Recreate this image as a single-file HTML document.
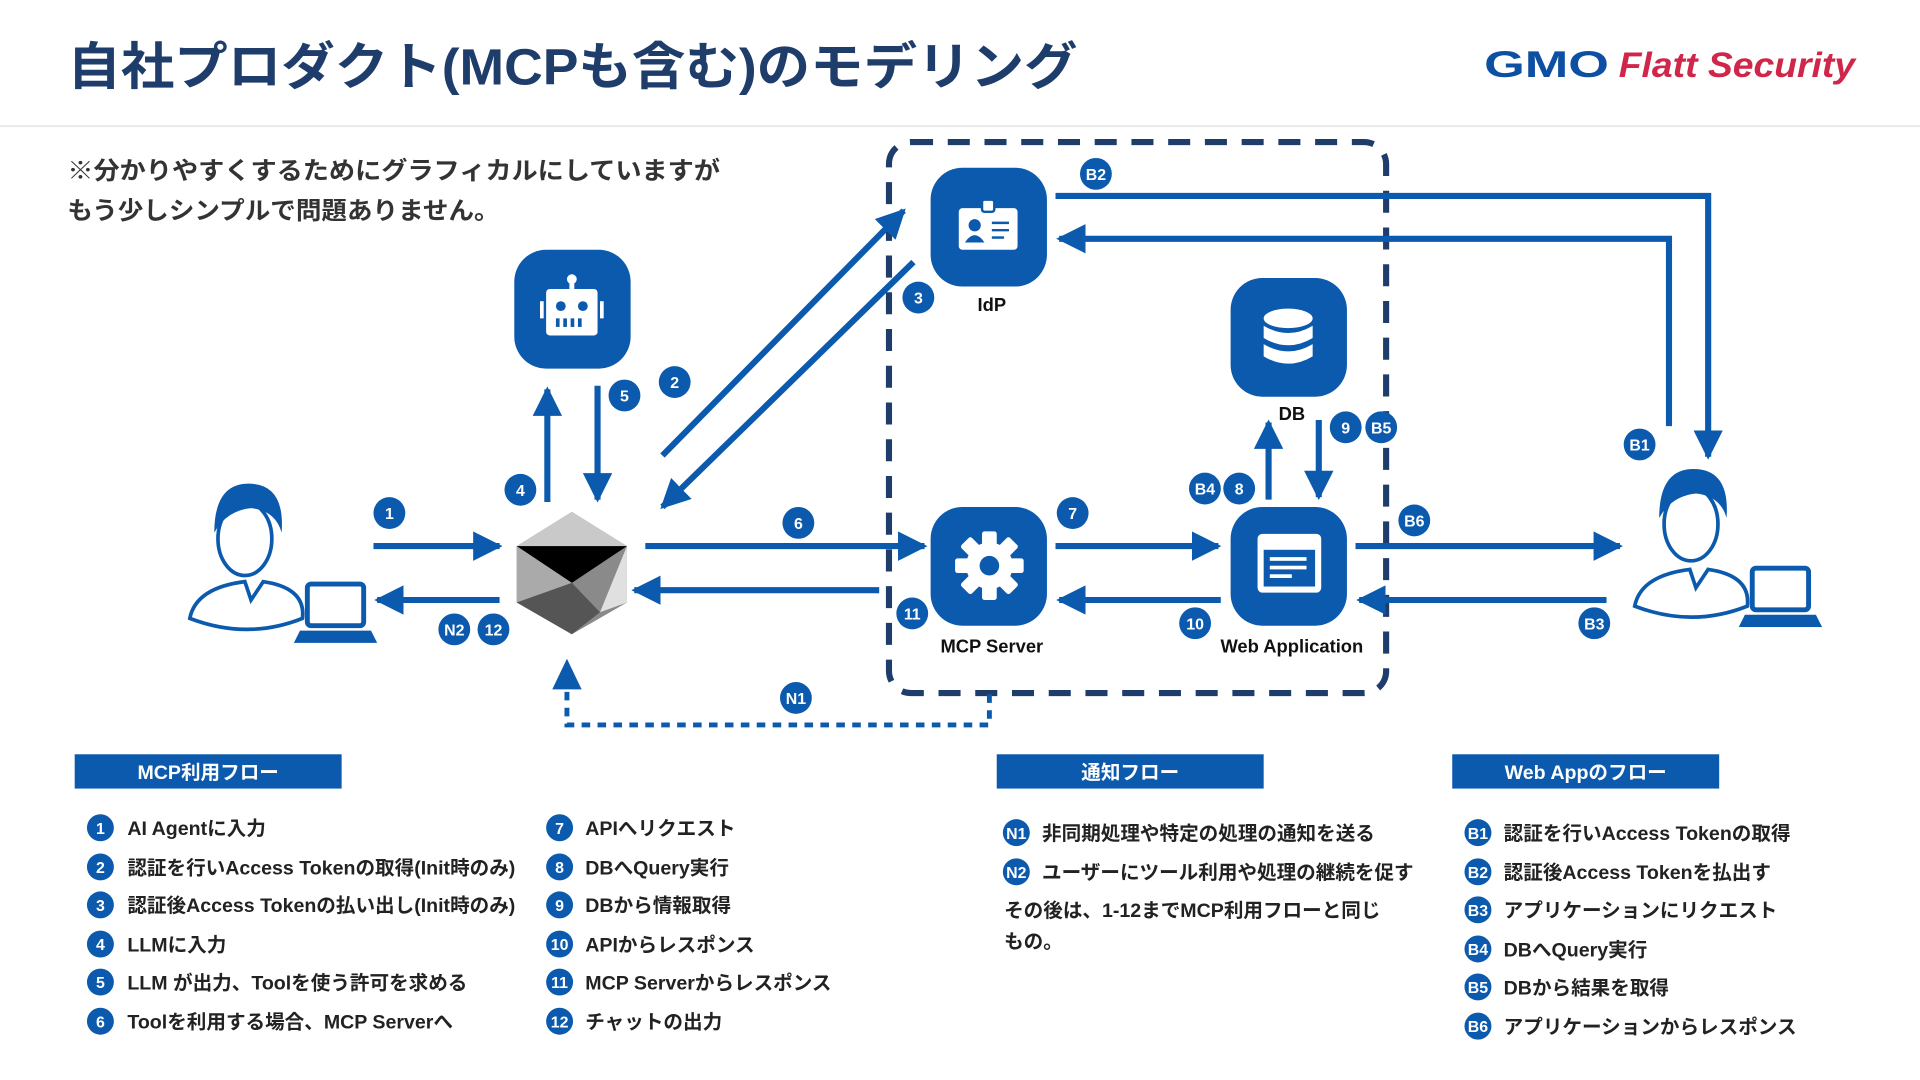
<!DOCTYPE html>
<html><head><meta charset="utf-8"><style>
html,body{margin:0;padding:0;background:#fff;width:1920px;height:1080px;overflow:hidden}
svg{display:block}
text{font-family:"Liberation Sans","Noto Sans CJK JP",sans-serif}
.b{fill:#0b5aad}
.bt{fill:#fff;font-size:13px;font-weight:bold;text-anchor:middle}
.li{font-size:16px;font-weight:bold;fill:#222}
.lb{font-size:15px;font-weight:bold;fill:#111;text-anchor:middle}
</style></head><body>
<svg width="1920" height="1080" viewBox="0 0 1568 882" preserveAspectRatio="none" xmlns="http://www.w3.org/2000/svg">
<defs>
<marker id="ah" viewBox="0 0 10 10" refX="9" refY="5" markerWidth="4.8" markerHeight="4.8" orient="auto-start-reverse" markerUnits="strokeWidth"><path d="M0,0 L10,5 L0,10 z" fill="#0b5aad"/></marker>
</defs>
<!-- header -->
<text x="55" y="69" font-size="42" font-weight="bold" fill="#1f3d6b" textLength="825" lengthAdjust="spacingAndGlyphs">自社プロダクト(MCPも含む)のモデリング</text>
<text x="1212" y="63" font-size="30" font-weight="bold" fill="#0d4fa3" textLength="102" lengthAdjust="spacingAndGlyphs">GMO</text>
<text x="1322" y="63" font-size="29" font-weight="bold" font-style="italic" fill="#d0264a" textLength="193" lengthAdjust="spacingAndGlyphs">Flatt Security</text>
<line x1="0" y1="103" x2="1568" y2="103" stroke="#e8e8e8" stroke-width="1.5"/>
<text x="55" y="146" font-size="20" font-weight="bold" fill="#333" textLength="533" lengthAdjust="spacingAndGlyphs">※分かりやすくするためにグラフィカルにしていますが</text>
<text x="55" y="179" font-size="20" font-weight="bold" fill="#333" textLength="353" lengthAdjust="spacingAndGlyphs">もう少しシンプルで問題ありません。</text>

<!-- dashed box -->
<rect x="726" y="116" width="406" height="450" rx="18" fill="none" stroke="#1f3d6b" stroke-width="5" stroke-dasharray="18 12"/>

<!-- arrows -->
<g stroke="#0b5aad" stroke-width="5" fill="none" marker-end="url(#ah)">
<line x1="305" y1="446" x2="408" y2="446"/>
<line x1="408" y1="490" x2="308" y2="490"/>
<line x1="447" y1="410" x2="447" y2="318"/>
<line x1="488" y1="315" x2="488" y2="408"/>
<line x1="541" y1="372" x2="738" y2="172"/>
<line x1="746" y1="214" x2="541" y2="414"/>
<line x1="527" y1="446" x2="755" y2="446"/>
<line x1="718" y1="482" x2="518" y2="482"/>
<line x1="862" y1="446" x2="995" y2="446"/>
<line x1="997" y1="490" x2="865" y2="490"/>
<line x1="1036" y1="408" x2="1036" y2="345"/>
<line x1="1077" y1="343" x2="1077" y2="406"/>
<line x1="1107" y1="446" x2="1323" y2="446"/>
<line x1="1312" y1="490" x2="1110" y2="490"/>
<polyline points="862,160 1395,160 1395,373"/>
<polyline points="1363,348 1363,195 865,195"/>
</g>
<polyline points="808,567 808,592 463,592 463,545" fill="none" stroke="#0b5aad" stroke-width="4" stroke-dasharray="7 6"/>
<path d="M451,563 L463,538 L475,563 z" fill="#0b5aad"/>

<!-- icon tiles -->
<rect x="420" y="204" width="95" height="97" rx="26" class="b"/>
<rect x="760" y="137" width="95" height="97" rx="26" class="b"/>
<rect x="1005" y="227" width="95" height="97" rx="26" class="b"/>
<rect x="760" y="414" width="95" height="97" rx="26" class="b"/>
<rect x="1005" y="414" width="95" height="97" rx="26" class="b"/>
<!-- robot -->
<g fill="#fff"><circle cx="467" cy="228" r="4"/><rect x="465" y="230" width="4" height="6"/><rect x="446" y="236" width="42" height="38" rx="3"/><rect x="441" y="246" width="3" height="14"/><rect x="490" y="246" width="3" height="14"/></g>
<g class="b"><circle cx="458" cy="250" r="4"/><circle cx="476" cy="250" r="4"/><rect x="454" y="260" width="3" height="7"/><rect x="460" y="260" width="3" height="7"/><rect x="466" y="260" width="3" height="7"/><rect x="472" y="260" width="3" height="7"/></g>
<!-- idp -->
<rect x="783" y="170" width="48" height="34" rx="3" fill="#fff"/><rect x="802" y="163" width="10" height="10" rx="2" fill="#fff" stroke="#0b5aad" stroke-width="2"/>
<circle cx="796" cy="184" r="5" class="b"/><path d="M788,198 q8,-12 16,0z" class="b"/>
<g stroke="#0b5aad" stroke-width="2"><line x1="810" y1="182" x2="824" y2="182"/><line x1="810" y1="188" x2="824" y2="188"/><line x1="810" y1="194" x2="820" y2="194"/></g>
<!-- db -->
<g fill="#fff"><ellipse cx="1052" cy="260" rx="20" ry="8"/><path d="M1032,266 q20,12 40,0 v10 q-20,12 -40,0z"/><path d="M1032,281 q20,12 40,0 v10 q-20,12 -40,0z"/></g>
<!-- gear -->
<g transform="translate(808,462)"><g fill="#fff"><circle r="19"/>
<rect x="-6" y="-28" width="12" height="56" rx="2"/><rect x="-6" y="-28" width="12" height="56" rx="2" transform="rotate(45)"/><rect x="-6" y="-28" width="12" height="56" rx="2" transform="rotate(90)"/><rect x="-6" y="-28" width="12" height="56" rx="2" transform="rotate(135)"/></g><circle r="8" class="b"/></g>
<!-- web app -->
<rect x="1027" y="436" width="52" height="48" rx="4" fill="#fff"/><rect x="1032" y="449" width="42" height="30" class="b"/>
<g fill="#fff"><rect x="1037" y="455" width="30" height="3"/><rect x="1037" y="462" width="30" height="3"/><rect x="1037" y="469" width="18" height="3"/><circle cx="1062" cy="442" r="1.6"/><circle cx="1067" cy="442" r="1.6"/><circle cx="1072" cy="442" r="1.6"/></g>

<text x="810" y="254" class="lb">IdP</text>
<text x="1055" y="343" class="lb">DB</text>
<text x="810" y="533" class="lb">MCP Server</text>
<text x="1055" y="533" class="lb">Web Application</text>

<!-- crystal -->
<path d="M467,418 L512,446 L512,492 L467,518 L422,492 L422,446z" fill="#8a8a8a"/>
<path d="M467,418 L512,446 L422,446z" fill="#c9c9c9"/>
<path d="M422,446 L512,446 L467,476z" fill="#000"/>
<path d="M422,446 L467,476 L422,492z" fill="#aaa"/>
<path d="M512,446 L490,500 L512,492z" fill="#e0e0e0"/>
<path d="M467,476 L490,500 L467,518 L422,492z" fill="#555"/>

<!-- users -->
<g fill="none" stroke="#0b5aad" stroke-width="3">
<path d="M155,505 q5,-25 45,-30 l5,15 l10,-15 q35,5 32,30 q-45,18 -92,0z"/>
<ellipse cx="200" cy="440" rx="22" ry="30"/>
<path d="M1335,495 q5,-25 45,-30 l5,15 l10,-15 q35,5 32,30 q-45,18 -92,0z"/>
<ellipse cx="1381" cy="428" rx="22" ry="30"/>
</g>
<path d="M175,435 q0,-40 28,-40 q30,0 27,40 q-5,-18 -25,-20 q-20,2 -30,20z" class="b"/>
<path d="M1355,423 q0,-40 28,-40 q30,0 27,40 q-5,-18 -25,-20 q-20,2 -30,20z" class="b"/>
<rect x="251" y="477" width="46" height="34" rx="3" fill="#fff" stroke="#0b5aad" stroke-width="4"/><path d="M245,515 h58 l5,10 h-68z" class="b"/>
<rect x="1431" y="464" width="46" height="34" rx="3" fill="#fff" stroke="#0b5aad" stroke-width="4"/><path d="M1425,502 h58 l5,10 h-68z" class="b"/>

<!-- diagram badges -->
<g>
<circle cx="318" cy="419" r="13" class="b"/><text x="318" y="424" class="bt">1</text>
<circle cx="551" cy="312" r="13" class="b"/><text x="551" y="317" class="bt">2</text>
<circle cx="750" cy="243" r="13" class="b"/><text x="750" y="248" class="bt">3</text>
<circle cx="425" cy="400" r="13" class="b"/><text x="425" y="405" class="bt">4</text>
<circle cx="510" cy="323" r="13" class="b"/><text x="510" y="328" class="bt">5</text>
<circle cx="652" cy="427" r="13" class="b"/><text x="652" y="432" class="bt">6</text>
<circle cx="876" cy="419" r="13" class="b"/><text x="876" y="424" class="bt">7</text>
<circle cx="1012" cy="399" r="13" class="b"/><text x="1012" y="404" class="bt">8</text>
<circle cx="1099" cy="349" r="13" class="b"/><text x="1099" y="354" class="bt">9</text>
<circle cx="976" cy="509" r="13" class="b"/><text x="976" y="514" class="bt">10</text>
<circle cx="745" cy="501" r="13" class="b"/><text x="745" y="506" class="bt">11</text>
<circle cx="403" cy="514" r="13" class="b"/><text x="403" y="519" class="bt">12</text>
<circle cx="371" cy="514" r="13" class="b"/><text x="371" y="519" class="bt">N2</text>
<circle cx="650" cy="570" r="13" class="b"/><text x="650" y="575" class="bt">N1</text>
<circle cx="1339" cy="363" r="13" class="b"/><text x="1339" y="368" class="bt">B1</text>
<circle cx="895" cy="142" r="13" class="b"/><text x="895" y="147" class="bt">B2</text>
<circle cx="1302" cy="509" r="13" class="b"/><text x="1302" y="514" class="bt">B3</text>
<circle cx="984" cy="399" r="13" class="b"/><text x="984" y="404" class="bt">B4</text>
<circle cx="1128" cy="349" r="13" class="b"/><text x="1128" y="354" class="bt">B5</text>
<circle cx="1155" cy="425" r="13" class="b"/><text x="1155" y="430" class="bt">B6</text>
</g>

<!-- legend headers -->
<rect x="61" y="616" width="218" height="28" class="b"/><text x="170" y="636" font-size="16" font-weight="bold" fill="#fff" text-anchor="middle">MCP利用フロー</text>
<rect x="814" y="616" width="218" height="28" class="b"/><text x="923" y="636" font-size="16" font-weight="bold" fill="#fff" text-anchor="middle">通知フロー</text>
<rect x="1186" y="616" width="218" height="28" class="b"/><text x="1295" y="636" font-size="16" font-weight="bold" fill="#fff" text-anchor="middle">Web Appのフロー</text>

<!-- lists -->
<g>
<circle cx="82" cy="676" r="11" class="b"/><text x="82" y="681" class="bt">1</text><text x="104" y="682" class="li">AI Agentに入力</text>
<circle cx="82" cy="708" r="11" class="b"/><text x="82" y="713" class="bt">2</text><text x="104" y="714" class="li">認証を行いAccess Tokenの取得(Init時のみ)</text>
<circle cx="82" cy="739" r="11" class="b"/><text x="82" y="744" class="bt">3</text><text x="104" y="745" class="li">認証後Access Tokenの払い出し(Init時のみ)</text>
<circle cx="82" cy="771" r="11" class="b"/><text x="82" y="776" class="bt">4</text><text x="104" y="777" class="li">LLMに入力</text>
<circle cx="82" cy="802" r="11" class="b"/><text x="82" y="807" class="bt">5</text><text x="104" y="808" class="li">LLM が出力、Toolを使う許可を求める</text>
<circle cx="82" cy="834" r="11" class="b"/><text x="82" y="839" class="bt">6</text><text x="104" y="840" class="li">Toolを利用する場合、MCP Serverへ</text>

<circle cx="457" cy="676" r="11" class="b"/><text x="457" y="681" class="bt">7</text><text x="478" y="682" class="li">APIへリクエスト</text>
<circle cx="457" cy="708" r="11" class="b"/><text x="457" y="713" class="bt">8</text><text x="478" y="714" class="li">DBへQuery実行</text>
<circle cx="457" cy="739" r="11" class="b"/><text x="457" y="744" class="bt">9</text><text x="478" y="745" class="li">DBから情報取得</text>
<circle cx="457" cy="771" r="11" class="b"/><text x="457" y="776" class="bt">10</text><text x="478" y="777" class="li">APIからレスポンス</text>
<circle cx="457" cy="802" r="11" class="b"/><text x="457" y="807" class="bt">11</text><text x="478" y="808" class="li">MCP Serverからレスポンス</text>
<circle cx="457" cy="834" r="11" class="b"/><text x="457" y="839" class="bt">12</text><text x="478" y="840" class="li">チャットの出力</text>

<circle cx="830" cy="680" r="11" class="b"/><text x="830" y="685" class="bt" font-size="10">N1</text><text x="851" y="686" class="li">非同期処理や特定の処理の通知を送る</text>
<circle cx="830" cy="712" r="11" class="b"/><text x="830" y="717" class="bt" font-size="10">N2</text><text x="851" y="718" class="li">ユーザーにツール利用や処理の継続を促す</text>
<text x="820" y="749" class="li">その後は、1-12までMCP利用フローと同じ</text>
<text x="820" y="774" class="li">もの。</text>

<circle cx="1207" cy="680" r="11" class="b"/><text x="1207" y="685" class="bt" font-size="10">B1</text><text x="1228" y="686" class="li">認証を行いAccess Tokenの取得</text>
<circle cx="1207" cy="712" r="11" class="b"/><text x="1207" y="717" class="bt" font-size="10">B2</text><text x="1228" y="718" class="li">認証後Access Tokenを払出す</text>
<circle cx="1207" cy="743" r="11" class="b"/><text x="1207" y="748" class="bt" font-size="10">B3</text><text x="1228" y="749" class="li">アプリケーションにリクエスト</text>
<circle cx="1207" cy="775" r="11" class="b"/><text x="1207" y="780" class="bt" font-size="10">B4</text><text x="1228" y="781" class="li">DBへQuery実行</text>
<circle cx="1207" cy="806" r="11" class="b"/><text x="1207" y="811" class="bt" font-size="10">B5</text><text x="1228" y="812" class="li">DBから結果を取得</text>
<circle cx="1207" cy="838" r="11" class="b"/><text x="1207" y="843" class="bt" font-size="10">B6</text><text x="1228" y="844" class="li">アプリケーションからレスポンス</text>
</g>
</svg>
</body></html>
